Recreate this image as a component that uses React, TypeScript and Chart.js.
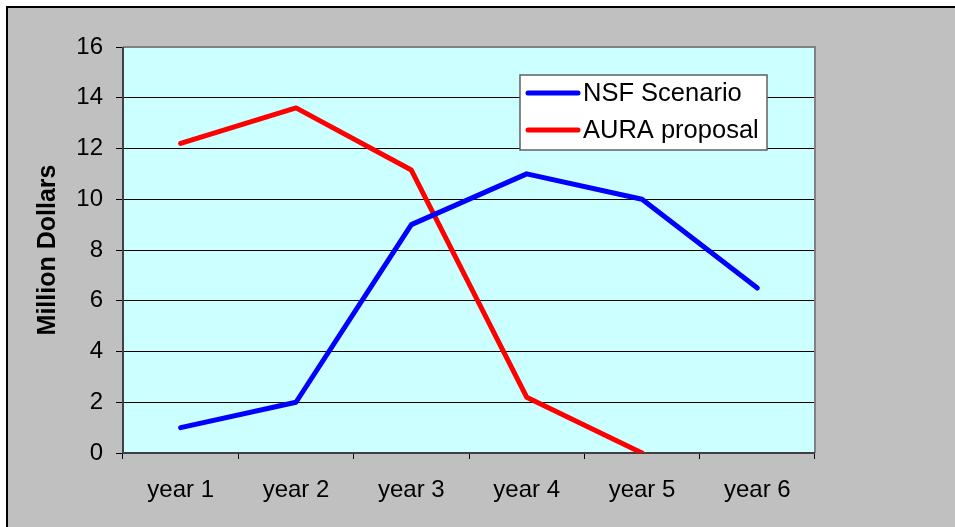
import React, { useEffect, useRef } from "react";
import { Chart, registerables } from "chart.js";

Chart.register(...registerables);

const categories = ["year 1", "year 2", "year 3", "year 4", "year 5", "year 6"];
const nsfScenario = [1, 2, 9, 11, 10, 6.5];
const auraProposal = [12.2, 13.6, 11.15, 2.2, 0, null];
const yTicks = [0, 2, 4, 6, 8, 10, 12, 14, 16];
const seriesLabels = ["NSF Scenario", "AURA proposal"];
const yTitle = "Million Dollars";

const FONT = "'Liberation Sans', Arial, sans-serif";

const plotBg = {
  id: "plotBg",
  beforeDraw(chart: any) {
    const { ctx, chartArea: a } = chart;
    ctx.save();
    ctx.fillStyle = "#CCFFFF";
    ctx.fillRect(a.left, a.top, a.right - a.left, a.bottom - a.top);
    ctx.restore();
  },
  beforeDatasetsDraw(chart: any) {
    const { ctx, chartArea: a } = chart;
    ctx.save();
    ctx.strokeStyle = "#808080";
    ctx.lineWidth = 2;
    ctx.beginPath();
    ctx.moveTo(a.left, a.top);
    ctx.lineTo(a.right, a.top);
    ctx.lineTo(a.right, a.bottom);
    ctx.stroke();
    ctx.strokeStyle = "#404040";
    ctx.beginPath();
    ctx.moveTo(a.left, a.top);
    ctx.lineTo(a.left, a.bottom);
    ctx.lineTo(a.right, a.bottom);
    ctx.stroke();
    ctx.restore();
  },
  afterDraw(chart: any) {
    const { ctx, chartArea: a } = chart;
    const bx = a.left + 397;
    const by = a.top + 28;
    const bw = 247;
    const bh = 75;
    ctx.save();
    ctx.fillStyle = "#FFFFFF";
    ctx.fillRect(bx, by, bw, bh);
    ctx.strokeStyle = "#606060";
    ctx.lineWidth = 1.5;
    ctx.strokeRect(bx, by, bw, bh);
    ctx.font = `25.5px ${FONT}`;
    ctx.textBaseline = "middle";
    ctx.textAlign = "left";
    chart.data.datasets.forEach((ds: any, i: number) => {
      const y = by + 18 + i * 37;
      ctx.strokeStyle = ds.borderColor;
      ctx.lineWidth = 5;
      ctx.lineCap = "round";
      ctx.beginPath();
      ctx.moveTo(bx + 8, y);
      ctx.lineTo(bx + 58, y);
      ctx.stroke();
      ctx.fillStyle = "#000";
      ctx.fillText(ds.label, bx + 63, y + 1);
    });
    ctx.restore();
  },
};

export default function App() {
  const ref = useRef<HTMLCanvasElement>(null);
  useEffect(() => {
    if (!ref.current) return;
    const chart = new Chart(ref.current, {
      type: "line",
      data: {
        labels: categories,
        datasets: [
          {
            label: seriesLabels[0],
            data: nsfScenario,
            borderColor: "#0000FF",
            borderWidth: 5,
            pointRadius: 0,
            tension: 0,
            borderJoinStyle: "round",
            borderCapStyle: "round",
          },
          {
            label: seriesLabels[1],
            data: auraProposal,
            borderColor: "#FF0000",
            borderWidth: 5,
            pointRadius: 0,
            tension: 0,
            borderJoinStyle: "round",
            borderCapStyle: "round",
            spanGaps: false,
          },
        ],
      },
      options: {
        animation: false,
        responsive: false,
        maintainAspectRatio: false,
        layout: { padding: { left: 0, top: 47, right: 140, bottom: 0 } },
        plugins: { legend: { display: false }, tooltip: { enabled: false } },
        scales: {
          x: {
            offset: true,
            grid: {
              offset: true,
              drawOnChartArea: false,
              drawTicks: true,
              tickLength: 6,
              color: "#000",
              lineWidth: 1,
            },
            border: { display: false },
            ticks: {
              color: "#000",
              font: { family: FONT, size: 24 },
              padding: 17,
              maxRotation: 0,
            },
            afterFit(scale: any) {
              scale.height = 74;
            },
          },
          y: {
            min: 0,
            max: 16,
            afterBuildTicks(scale: any) {
              scale.ticks = yTicks.map((v) => ({ value: v }));
            },
            grid: {
              color: "#000",
              lineWidth: 1,
              drawTicks: true,
              tickLength: 7,
            },
            border: { display: false },
            ticks: {
              color: "#000",
              font: { family: FONT, size: 24 },
              padding: 13,
            },
            title: {
              display: true,
              text: yTitle,
              color: "#000",
              font: { family: FONT, size: 25, weight: "bold" },
              padding: { top: 33, bottom: 0 },
            },
            afterFit(scale: any) {
              scale.width = 123;
            },
          },
        },
      },
      plugins: [plotBg],
    } as any);
    return () => chart.destroy();
  }, []);

  return (
    <div
      style={{
        position: "fixed",
        left: 0,
        top: 0,
        width: 955,
        height: 527,
        background: "#FFFFFF",
        overflow: "hidden",
      }}
    >
      <div
        style={{
          position: "absolute",
          left: 6,
          top: 6,
          right: 0,
          bottom: 0,
          background: "#C0C0C0",
          borderTop: "2px solid #000",
          borderLeft: "2px solid #000",
        }}
      />
      <canvas
        ref={ref}
        width={955}
        height={527}
        style={{ position: "absolute", left: 0, top: 0, width: 955, height: 527 }}
      />
    </div>
  );
}
